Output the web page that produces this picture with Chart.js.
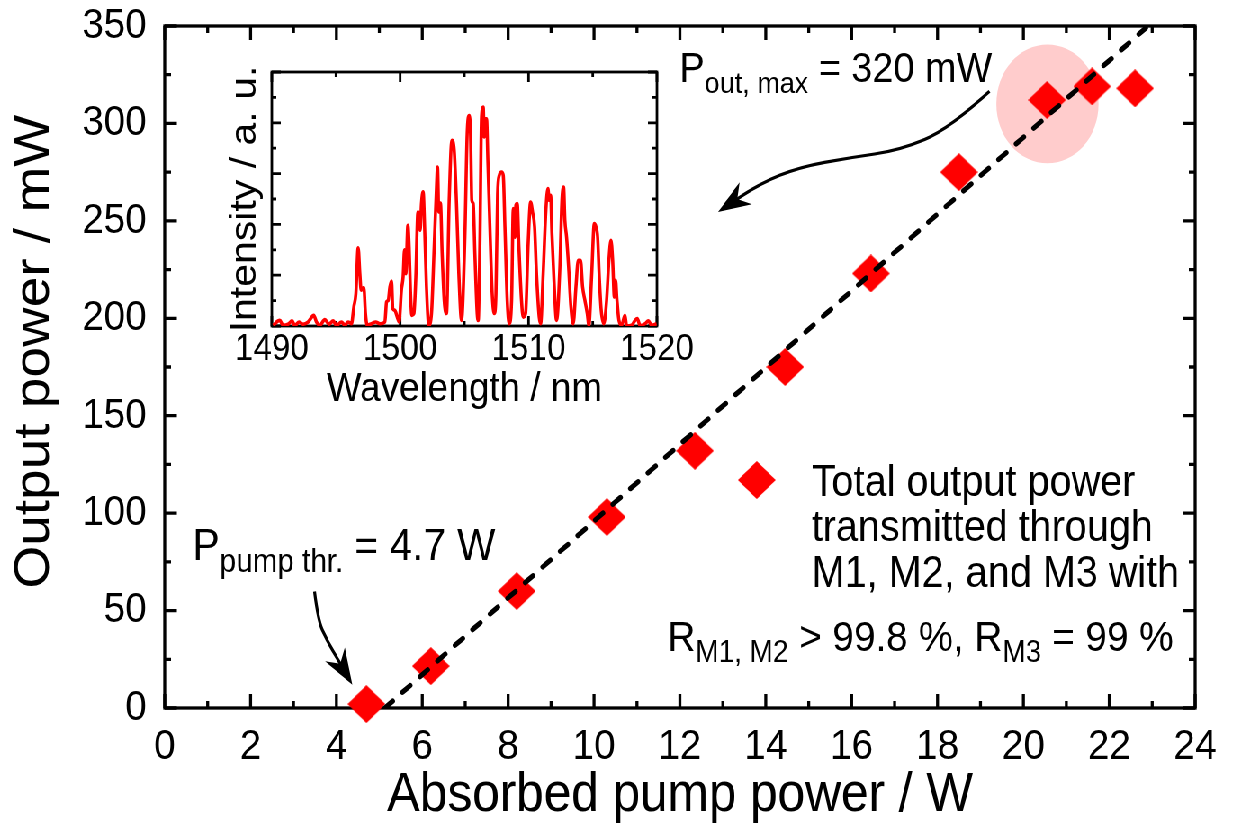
<!DOCTYPE html>
<html>
<head>
<meta charset="utf-8">
<script src="https://cdn.jsdelivr.net/npm/chart.js@4.4.0/dist/chart.umd.min.js"></script>
<style>
  html, body { margin: 0; padding: 0; background: #fff; overflow: hidden; }
  #wrap { position: relative; width: 1379px; height: 829px; transform: scaleX(0.9); transform-origin: 0 0; }
  #mainChart { position: absolute; left: 0; top: 0; }
  #insetChart { position: absolute; left: 190px; top: 56px; }
</style>
</head>
<body>
<div id="wrap">
  <canvas id="mainChart" width="1379" height="829"></canvas>
  <canvas id="insetChart" width="610" height="370"></canvas>
</div>
<script>
// main plot: absorbed pump power (W) vs output power (mW)
const pumpPower   = [4.7, 6.2, 8.2, 10.3, 12.35, 14.45, 16.45, 18.5, 20.55, 21.6, 22.6];
const outputPower = [2, 21.5, 60, 98, 132, 175, 223, 275, 312, 319, 318];
// linear fit (dashed)
const fitPump   = [5.13, 22.85];
const fitOutput = [0, 349];
// axis ranges / ticks
const xRange = [0, 24], xMajor = 2, xMinor = 1;
const yRange = [0, 350], yMajor = 50, yMinor = 25;

// inset: emission spectrum
const wavelength = [
  1490.1, 1490.62, 1490.88, 1491.27, 1491.58, 1491.79, 1492.13, 1492.44, 1492.83, 1493.27,
  1493.48, 1493.74, 1494.13, 1494.47, 1494.78, 1495.04, 1495.43, 1495.69, 1495.95, 1496.21,
  1496.39, 1496.55, 1496.73, 1496.86, 1496.96, 1497.17, 1497.3, 1497.43, 1497.77, 1498.1,
  1498.42, 1498.81, 1498.94, 1499.07, 1499.2, 1499.33, 1499.43, 1499.58, 1499.77, 1499.92,
  1500.1, 1500.23, 1500.34, 1500.44, 1500.6, 1500.7, 1500.8, 1500.91, 1501.07, 1501.22,
  1501.38, 1501.48, 1501.56, 1501.66, 1501.79, 1501.92, 1502.05, 1502.23, 1502.44, 1502.65,
  1502.83, 1502.91, 1503.01, 1503.14, 1503.27, 1503.43, 1503.61, 1503.82, 1504.03, 1504.21,
  1504.39, 1504.57, 1504.78, 1505.04, 1505.22, 1505.38, 1505.48, 1505.58, 1505.69, 1505.82,
  1506.0, 1506.08, 1506.21, 1506.34, 1506.47, 1506.55, 1506.62, 1506.73, 1506.83, 1506.99,
  1507.17, 1507.33, 1507.46, 1507.59, 1507.72, 1507.9, 1508.03, 1508.16, 1508.34, 1508.49,
  1508.68, 1508.81, 1508.94, 1509.01, 1509.12, 1509.25, 1509.45, 1509.58, 1509.77, 1509.97,
  1510.16, 1510.31, 1510.47, 1510.62, 1510.83, 1510.94, 1511.14, 1511.35, 1511.51, 1511.61,
  1511.72, 1511.82, 1511.97, 1512.18, 1512.44, 1512.6, 1512.73, 1512.83, 1512.96, 1513.12,
  1513.3, 1513.48, 1513.69, 1513.87, 1514.05, 1514.21, 1514.39, 1514.57, 1514.7, 1514.91,
  1515.12, 1515.25, 1515.38, 1515.51, 1515.66, 1515.87, 1516.08, 1516.26, 1516.42, 1516.55,
  1516.68, 1516.78, 1516.88, 1517.04, 1517.25, 1517.51, 1517.64, 1518.03, 1518.29, 1518.47,
  1518.68, 1519.07, 1519.33, 1519.59, 1519.97
];
const intensity = [
  0.03, 0.22, 0.03, 0.07, 0.2, 0.02, 0.16, 0.07, 0.16, 0.42,
  0.16, 0.03, 0.25, 0.07, 0.2, 0.02, 0.16, 0.03, 0.16, 0.09,
  0.75, 1.27, 3.08, 2.06, 1.41, 1.51, 0.49, 0.03, 0.09, 0.16,
  0.09, 0.16, 0.95, 1.01, 1.54, 1.77, 0.68, 0.62, 0.35, 0.16,
  1.41, 1.93, 3.0, 2.06, 3.96, 3.11, 1.41, 0.42, 0.49, 1.93,
  4.49, 4.42, 3.77, 4.82, 5.28, 3.64, 1.54, 0.03, 0.49, 3.11,
  5.47, 6.26, 4.49, 4.84, 2.85, 1.01, 0.49, 4.95, 7.31, 6.92,
  4.82, 2.06, 0.22, 3.5, 7.57, 8.29, 7.57, 4.95, 4.82, 2.85,
  0.49, 0.22, 3.24, 8.23, 8.62, 7.44, 8.16, 8.16, 6.52, 3.9,
  1.27, 0.49, 1.27, 5.21, 5.93, 6.06, 5.93, 3.9, 1.01, 0.09,
  1.01, 4.62, 3.5, 4.75, 4.82, 3.11, 1.01, 0.35, 0.49, 3.24,
  4.88, 4.49, 3.9, 2.06, 0.35, 0.09, 2.06, 4.55, 5.41, 4.95,
  5.15, 3.64, 1.93, 0.22, 2.32, 4.95, 5.47, 4.16, 3.5, 2.32,
  0.75, 0.09, 1.54, 2.59, 2.59, 1.54, 1.01, 0.49, 0.03, 1.93,
  4.03, 3.9, 3.5, 1.93, 0.62, 0.09, 1.01, 2.59, 3.37, 2.59,
  1.14, 1.8, 1.08, 0.22, 0.03, 0.42, 0.0, 0.03, 0.22, 0.29,
  0.02, 0.09, 0.2, 0.03, 0.09
];
const wlRange = [1490, 1520], wlMajor = 10, wlMinor = 5;
const intRange = [0, 10], intMajor = 2, intMinor = 1;

const FONT = "'Liberation Sans', Arial, Helvetica, sans-serif";

// diamond marker (a bit wider than tall, the page is squeezed horizontally)
const diamond = document.createElement('canvas');
diamond.width = 42; diamond.height = 38;
(function () {
  const c = diamond.getContext('2d');
  c.fillStyle = '#ff0000';
  c.beginPath();
  c.moveTo(0, 19); c.lineTo(21, 0); c.lineTo(42, 19); c.lineTo(21, 38);
  c.closePath(); c.fill();
})();

// keep label overhang from shrinking the plot area
function fixBox(size, horizontal) {
  return s => {
    if (horizontal) s.height = size; else s.width = size;
    s.paddingTop = 0; s.paddingBottom = 0; s.paddingLeft = 0; s.paddingRight = 0;
  };
}

// frame + inward ticks on all four sides
const frameTicks = {
  id: 'frameTicks',
  beforeDatasetsDraw(chart, args, o) {
    const {ctx, chartArea: a, scales: {x, y}} = chart;
    ctx.save();
    ctx.strokeStyle = '#000';
    ctx.lineWidth = o.lineWidth;
    ctx.beginPath();
    for (let v = o.x[0]; v <= o.x[1] + 1e-9; v += o.x[3]) {
      const px = x.getPixelForValue(v);
      const major = Math.abs(v / o.x[2] - Math.round(v / o.x[2])) < 1e-6;
      const len = major ? o.majorV : o.minorV;
      ctx.moveTo(px, a.bottom); ctx.lineTo(px, a.bottom - len);
      ctx.moveTo(px, a.top); ctx.lineTo(px, a.top + len);
    }
    for (let v = o.y[0]; v <= o.y[1] + 1e-9; v += o.y[3]) {
      const py = y.getPixelForValue(v);
      const major = Math.abs(v / o.y[2] - Math.round(v / o.y[2])) < 1e-6;
      const len = major ? o.majorH : o.minorH;
      ctx.moveTo(a.left, py); ctx.lineTo(a.left + len, py);
      ctx.moveTo(a.right, py); ctx.lineTo(a.right - len, py);
    }
    ctx.stroke();
    ctx.strokeRect(a.left, a.top, a.right - a.left, a.bottom - a.top);
    ctx.restore();
  }
};

// highlighted region around the maximum output
const highlight = {
  id: 'highlight',
  beforeDatasetsDraw(chart) {
    const {ctx, scales: {x, y}} = chart;
    const cx = x.getPixelForValue(20.56), cy = y.getPixelForValue(310);
    const rx = x.getPixelForValue(20.56 + 1.19) - cx;
    const ry = cy - y.getPixelForValue(310 + 30.5);
    ctx.save();
    ctx.fillStyle = 'rgba(255, 0, 0, 0.2)';
    ctx.beginPath();
    ctx.ellipse(cx, cy, rx, ry, 0, 0, Math.PI * 2);
    ctx.fill();
    ctx.restore();
  }
};

function richText(ctx, x, y, parts, size, subSize, drop) {
  let cx = x;
  parts.forEach(([t, sub]) => {
    ctx.font = (sub ? subSize : size) + 'px ' + FONT;
    ctx.fillText(t, cx, sub ? y + drop : y);
    cx += ctx.measureText(t).width;
  });
}

function curvedArrow(ctx, pts) {
  ctx.beginPath();
  ctx.moveTo(pts[0][0], pts[0][1]);
  for (let i = 1; i < pts.length - 1; i++) {
    const mx = (pts[i][0] + pts[i + 1][0]) / 2, my = (pts[i][1] + pts[i + 1][1]) / 2;
    ctx.quadraticCurveTo(pts[i][0], pts[i][1], mx, my);
  }
  const tip = pts[pts.length - 1], prev = pts[pts.length - 2];
  let ux = tip[0] - prev[0], uy = tip[1] - prev[1];
  const n = Math.hypot(ux, uy); ux /= n; uy /= n;
  ctx.lineTo(tip[0] - ux * 20, tip[1] - uy * 20);
  ctx.stroke();
  const L = 36, W = 13, N = 25;
  const bx = tip[0] - ux * L, by = tip[1] - uy * L;
  ctx.beginPath();
  ctx.moveTo(tip[0], tip[1]);
  ctx.lineTo(bx - uy * W, by + ux * W);
  ctx.lineTo(tip[0] - ux * N, tip[1] - uy * N);
  ctx.lineTo(bx + uy * W, by - ux * W);
  ctx.closePath();
  ctx.fill();
}

const notes = {
  id: 'notes',
  afterDatasetsDraw(chart) {
    const {ctx, scales: {x, y}} = chart;
    const P = (a, b) => [x.getPixelForValue(a), y.getPixelForValue(b)];
    ctx.save();
    ctx.fillStyle = '#000';
    ctx.strokeStyle = '#000';
    ctx.lineWidth = 3.2;
    ctx.textBaseline = 'alphabetic';
    ctx.textAlign = 'left';

    let p = P(11.99, 321.2);
    richText(ctx, p[0], p[1], [['P', false], ['out, max', true], [' = 320 mW', false]], 42, 30, 11);
    curvedArrow(ctx, [P(19.21, 316.5), P(18.28, 297.3), P(17.12, 286.2), P(15.95, 282.4),
                      P(14.79, 277.6), P(13.86, 269.1), P(12.89, 254.5)]);

    p = P(0.65, 75.7);
    richText(ctx, p[0], p[1], [['P', false], ['pump thr.', true], [' = 4.7 W', false]], 45, 33, 12);
    curvedArrow(ctx, [P(3.49, 59.8), P(3.57, 45.3), P(3.77, 35.0), P(4.08, 23.1), P(4.37, 11.9)]);

    // legend
    p = P(13.79, 117);
    ctx.drawImage(diamond, p[0] - diamond.width / 2, p[1] - diamond.height / 2);
    p = P(15.07, 108.8);
    ctx.font = '44px ' + FONT;
    ['Total output power', 'transmitted through', 'M1, M2, and M3 with'].forEach((t, i) => {
      ctx.fillText(t, p[0], p[1] + i * 45.5);
    });
    p = P(11.71, 29.4);
    richText(ctx, p[0], p[1], [['R', false], ['M1, M2', true], [' > 99.8 %, R', false], ['M3', true], [' = 99 %', false]], 43, 31, 11);
    ctx.restore();
  }
};

const tickFont = {family: FONT, size: 43};
const titleFont = {family: FONT, size: 55};

new Chart(document.getElementById('mainChart'), {
  type: 'scatter',
  data: {
    datasets: [
      {
        label: 'Total output power',
        data: pumpPower.map((v, i) => ({x: v, y: outputPower[i]})),
        pointStyle: diamond, pointRadius: 19, pointHoverRadius: 19,
        backgroundColor: '#ff0000', borderWidth: 0, clip: false, order: 2
      },
      {
        type: 'line', label: 'fit',
        data: fitPump.map((v, i) => ({x: v, y: fitOutput[i]})),
        borderColor: '#000', borderWidth: 5.2, borderDash: [11, 14], borderCapStyle: 'round',
        pointRadius: 0, fill: false, order: 1
      }
    ]
  },
  options: {
    responsive: false, animation: false, events: [],
    layout: {padding: {left: 0, right: 51, top: 26, bottom: 0}},
    plugins: {
      legend: {display: false}, tooltip: {enabled: false},
      frameTicks: {x: [...xRange, xMajor, xMinor], y: [...yRange, yMajor, yMinor],
                   lineWidth: 3.3, majorV: 14, minorV: 7, majorH: 13.5, minorH: 7}
    },
    scales: {
      x: {
        type: 'linear', min: xRange[0], max: xRange[1],
        afterFit: fixBox(121, true),
        grid: {display: false, drawTicks: false}, border: {display: false},
        ticks: {stepSize: xMajor, padding: 13, color: '#000', font: tickFont, maxRotation: 0, autoSkip: false},
        title: {display: true, text: 'Absorbed pump power / W', color: '#000', font: titleFont, padding: {top: 0, bottom: 0}}
      },
      y: {
        type: 'linear', min: yRange[0], max: yRange[1],
        afterFit: fixBox(183, false),
        grid: {display: false, drawTicks: false}, border: {display: false},
        ticks: {stepSize: yMajor, padding: 20, color: '#000', font: tickFont},
        title: {display: true, text: '\u00a0\u00a0Output power / mW', color: '#000', font: titleFont, padding: {top: 6, bottom: 0}}
      }
    }
  },
  plugins: [highlight, frameTicks, notes]
});

const insetTick = {family: FONT, size: 37};
const insetTitle = {family: FONT, size: 41};

new Chart(document.getElementById('insetChart'), {
  type: 'line',
  data: {
    datasets: [{
      data: wavelength.map((v, i) => ({x: v, y: intensity[i]})),
      borderColor: '#ff0000', borderWidth: 3.6, pointRadius: 0,
      cubicInterpolationMode: 'monotone', fill: false
    }]
  },
  options: {
    responsive: false, animation: false, events: [],
    layout: {padding: {left: 0, right: 70, top: 16, bottom: 0}},
    plugins: {
      legend: {display: false}, tooltip: {enabled: false},
      frameTicks: {x: [...wlRange, wlMajor, wlMinor], y: [...intRange, intMajor, intMinor],
                   lineWidth: 2.8, majorV: 10, minorV: 5, majorH: 10, minorH: 5}
    },
    scales: {
      x: {
        type: 'linear', min: wlRange[0], max: wlRange[1],
        afterFit: fixBox(100, true),
        grid: {display: false, drawTicks: false}, border: {display: false},
        ticks: {stepSize: wlMajor, padding: 2, color: '#000', font: insetTick, maxRotation: 0, autoSkip: false,
                callback: v => String(v)},
        title: {display: true, text: 'Wavelength / nm', color: '#000', font: insetTitle, padding: {top: 0, bottom: 12}}
      },
      y: {
        type: 'linear', min: intRange[0], max: intRange[1],
        afterFit: fixBox(112, false),
        grid: {display: false, drawTicks: false}, border: {display: false},
        ticks: {display: false, stepSize: intMajor},
        title: {display: true, text: 'Intensity / a. u.', color: '#000', font: insetTitle, padding: {top: 58, bottom: 0}}
      }
    }
  },
  plugins: [frameTicks]
});
</script>
</body>
</html>
